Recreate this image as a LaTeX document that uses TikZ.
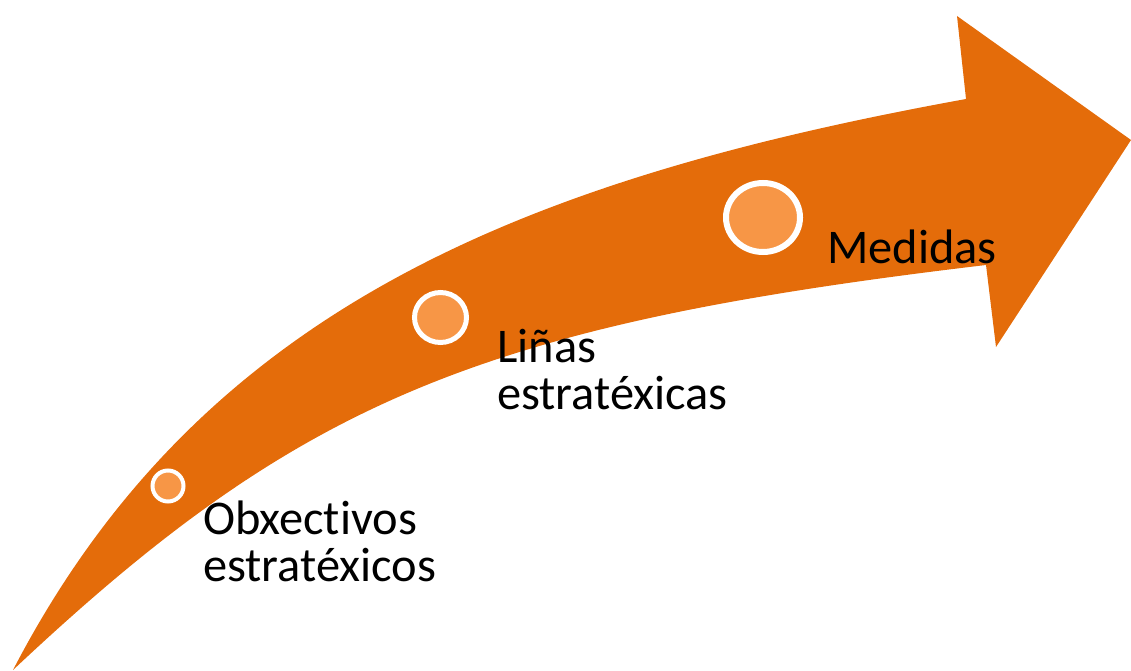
\documentclass[tikz,border=0pt]{standalone}
\usepackage{fontspec}
\setmainfont{Carlito}[Ligatures=NoCommon]
\usetikzlibrary{shapes.geometric}
\definecolor{arroworange}{HTML}{E46C0A}
\definecolor{dotorange}{HTML}{F79646}
\def\Obxectivos{Obxectivos\\estratéxicos}
\def\Linas{Liñas\\estratéxicas}
\def\Medidas{Medidas}
\newcommand{\stagedot}[5]{\node[dot, minimum width=#3, minimum height=#4, line width=#5] (#1) at (#2) {}}
\newcommand{\stagelabel}[3]{\node[label] (#1) at (#2) {#3}}

\begin{document}
\begin{tikzpicture}[x=1pt, y=-1pt,
                    dot/.style={
                        ellipse,
                        fill=dotorange,
                        draw=white,
                        inner sep=0pt
                    },
                    label/.style={
                        anchor=base west,
                        align=left,
                        inner sep=0pt,
                        font=\fontsize{48.4}{47}\selectfont
                    }]
    \useasboundingbox (0,0) rectangle (1131,671);

    % the bent arrow
    \fill[arroworange] (13,670) .. controls (200,310) and (520,180) .. (966,99)
        -- (957,16) -- (1131,140) -- (996,347) -- (986,265)
        .. controls (480,325) and (300,400) .. (13,670) -- cycle;

    \stagedot{d1}{168,486}{31pt}{31pt}{4pt};
    \stagedot{d2}{440.5,317.5}{52pt}{50pt}{5pt};
    \stagedot{d3}{763,217.5}{74pt}{69pt}{6pt};

    % base of a two-line label is its last line
    \stagelabel{l1}{203,581}{\Obxectivos};
    \stagelabel{l2}{497,409}{\Linas};
    \stagelabel{l3}{827,263}{\Medidas};
\end{tikzpicture}
\end{document}
